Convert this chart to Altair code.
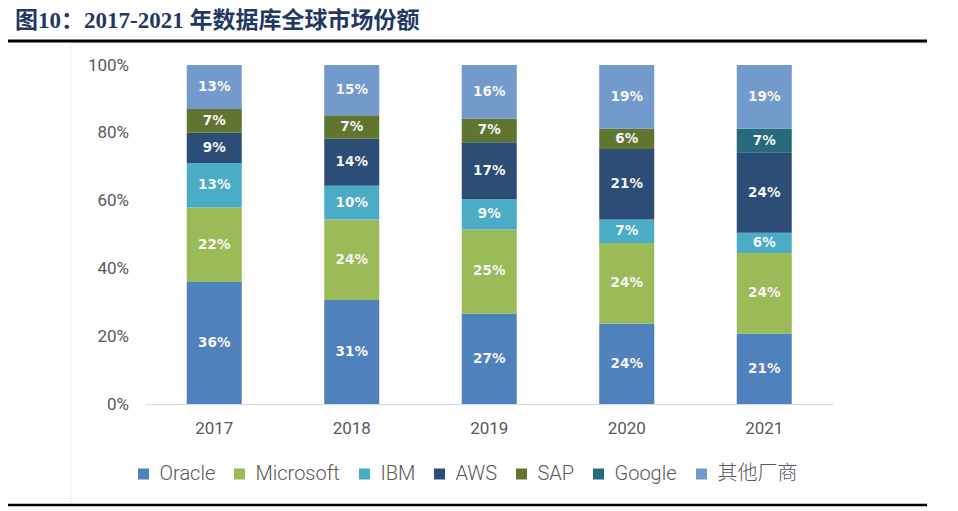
import altair as alt
import pandas as pd

years = ["2017", "2018", "2019", "2020", "2021"]
companies = ["Oracle", "Microsoft", "IBM", "AWS", "SAP", "Google", "其他厂商"]
oracle = [36, 31, 27, 24, 21]
microsoft = [22, 24, 25, 24, 24]
ibm = [13, 10, 9, 7, 6]
aws = [9, 14, 17, 21, 24]
sap = [7, 7, 7, 6, None]
google = [None, None, None, None, 7]
others = [13, 15, 16, 19, 19]
colors = ["#4F81BD", "#9BBB59", "#4BACC6", "#2C4D75", "#5F7530", "#276A7C", "#729ACA"]
y_ticks = [0, 0.2, 0.4, 0.6, 0.8, 1.0]
title_text = "图10：2017-2021 年数据库全球市场份额"

series = [oracle, microsoft, ibm, aws, sap, google, others]
rows = []
for ci, (comp, vals) in enumerate(zip(companies, series)):
    for yr, v in zip(years, vals):
        if v is not None:
            rows.append({"year": yr, "company": comp, "ord": ci, "value": v})
df = pd.DataFrame(rows)

base = alt.Chart(df).transform_stack(
    stack="value",
    as_=["y0", "y1"],
    groupby=["year"],
    sort=[alt.SortField("ord", order="ascending")],
    offset="normalize",
).transform_calculate(
    mid="(datum.y0 + datum.y1) / 2",
    label="datum.value + '%'",
)

x_enc = alt.X(
    "year:O",
    title=None,
    scale=alt.Scale(paddingInner=0.6, paddingOuter=0.3),
    axis=alt.Axis(
        labelAngle=0, labelFont="Roboto", labelFontSize=17, labelColor="#595959",
        ticks=False, domainColor="#D9D9D9", domainWidth=1.2, labelPadding=16,
    ),
)

bars = base.mark_bar().encode(
    x=x_enc,
    y=alt.Y(
        "y0:Q", title=None,
        scale=alt.Scale(domain=[0, 1], nice=False),
        axis=alt.Axis(
            format=".0%", values=y_ticks, grid=False, domain=False, ticks=False,
            labelFont="Roboto", labelFontSize=17, labelColor="#595959",
            labelPadding=17,
        ),
    ),
    y2="y1:Q",
    color=alt.Color(
        "company:N",
        scale=alt.Scale(domain=companies, range=colors),
        sort=companies,
        legend=alt.Legend(
            title=None, orient="none", direction="horizontal",
            legendX=-12, legendY=399, padding=0,
            symbolType="square", symbolSize=121, symbolStrokeWidth=0,
            labelFont="Roboto, Noto Sans CJK SC", labelFontSize=20,
            labelFontWeight=300, labelColor="#595959", labelOffset=6,
            columnPadding=14,
        ),
    ),
)

labels = base.mark_text(
    font="DejaVu Sans", fontWeight="bold", fontSize=13.5, color="#F5F5F5",
    baseline="middle", align="center",
).encode(
    x=alt.X("year:O"),
    y=alt.Y("mid:Q"),
    text="label:N",
)

one = pd.DataFrame({"a": [0]})

title = alt.Chart(pd.DataFrame({"t": [title_text]})).mark_text(
    font="Liberation Serif, Noto Sans CJK SC", fontWeight="bold", fontSize=23,
    color="#1F3864", align="left", baseline="middle",
).encode(x=alt.value(-130.5), y=alt.value(-44), text="t:N")

top_line = alt.Chart(one).mark_rule(color="#000000", strokeWidth=3).encode(
    x=alt.value(-146), x2=alt.value(781.5), y=alt.value(-24)
)
frame_top = alt.Chart(one).mark_rule(color="#EDEDED", strokeWidth=1).encode(
    x=alt.value(-74.5), x2=alt.value(781.5), y=alt.value(-22)
)
frame_left = alt.Chart(one).mark_rule(color="#EDEDED", strokeWidth=1).encode(
    x=alt.value(-74.5), y=alt.value(-22), y2=alt.value(440)
)
bottom_line = alt.Chart(one).mark_rule(color="#000000", strokeWidth=2.5).encode(
    x=alt.value(-146), x2=alt.value(781.5), y=alt.value(440)
)

chart = alt.layer(
    frame_top, frame_left, top_line, bottom_line, bars, labels, title
).properties(
    width=687.5, height=339,
    autosize=alt.AutoSizeParams(type="none"),
    padding={"left": 137.5, "top": 57, "right": 110, "bottom": 103},
).configure_view(stroke=None)

chart.save("out.html", embed_options={"renderer": "svg", "actions": False})
